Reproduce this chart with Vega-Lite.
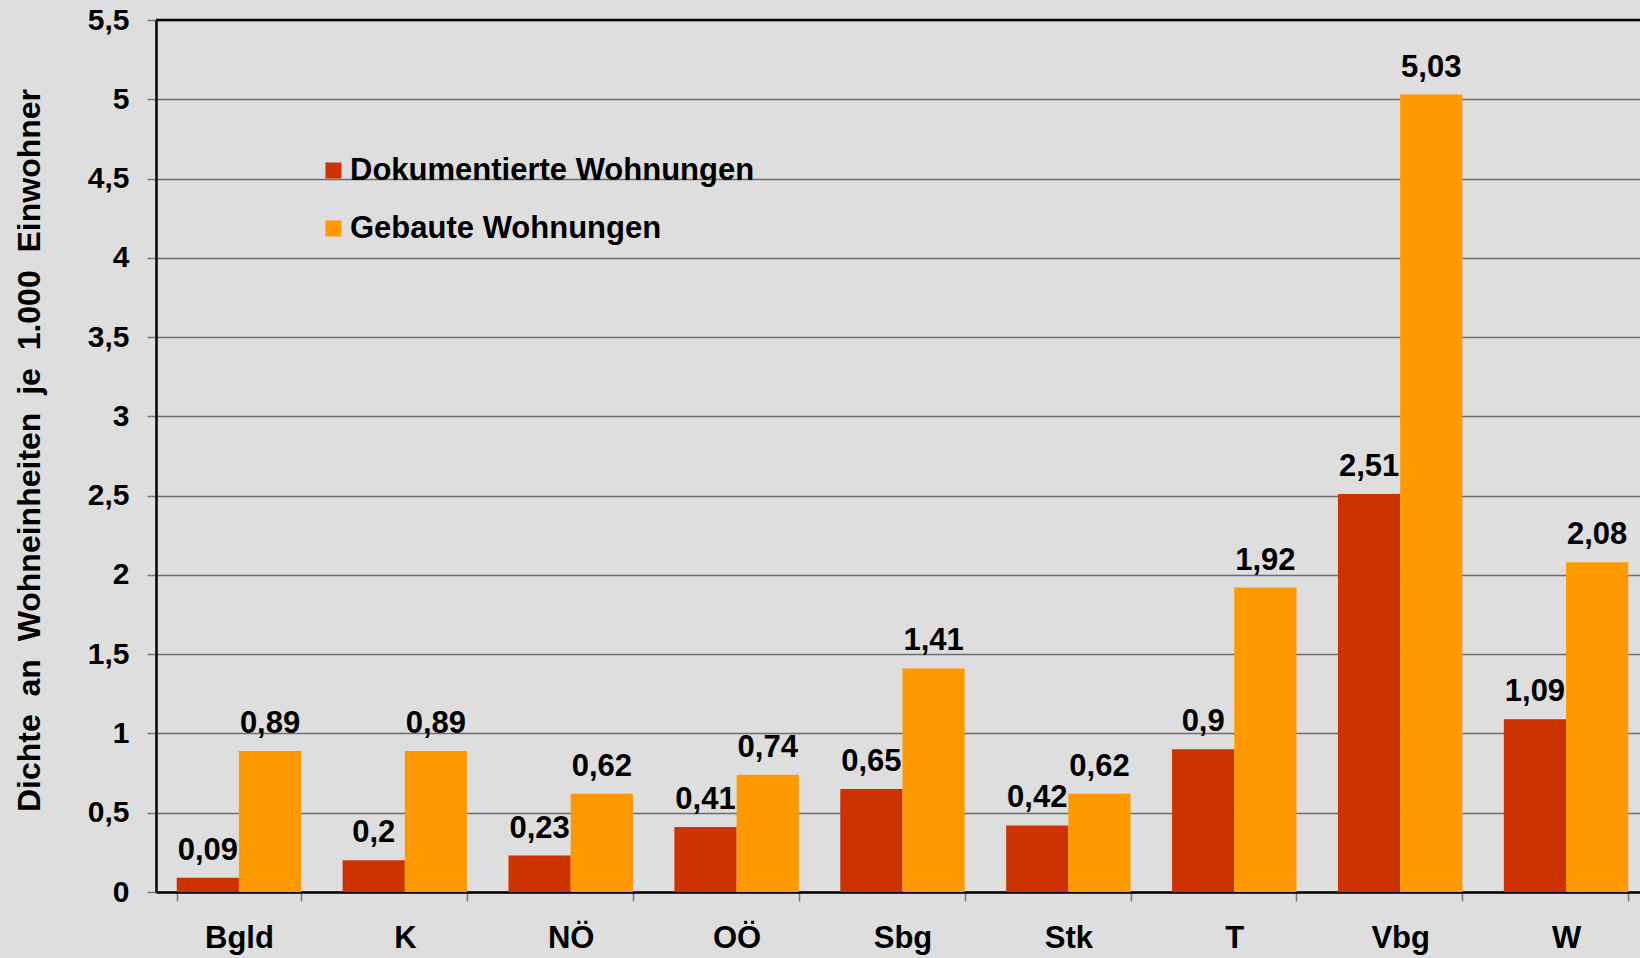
{
  "$schema": "https://vega.github.io/schema/vega-lite/v6.json",
  "width": 1493,
  "height": 872,
  "autosize": {"type": "none"},
  "padding": {"left": 156, "top": 20, "right": 0, "bottom": 66},
  "background": "#DEDEDE",
  "config": {
    "locale": {"number": {"decimal": ",", "thousands": ".", "grouping": [3], "currency": ["", " €"]}},
    "font": "Liberation Sans",
    "view": {"stroke": null, "fill": "#DEDEDE"}
  },
  "data": {
    "values": [
      {"land": "Bgld", "serie": "Dokumentierte Wohnungen", "wert": 0.09},
      {"land": "Bgld", "serie": "Gebaute Wohnungen", "wert": 0.89},
      {"land": "K", "serie": "Dokumentierte Wohnungen", "wert": 0.2},
      {"land": "K", "serie": "Gebaute Wohnungen", "wert": 0.89},
      {"land": "NÖ", "serie": "Dokumentierte Wohnungen", "wert": 0.23},
      {"land": "NÖ", "serie": "Gebaute Wohnungen", "wert": 0.62},
      {"land": "OÖ", "serie": "Dokumentierte Wohnungen", "wert": 0.41},
      {"land": "OÖ", "serie": "Gebaute Wohnungen", "wert": 0.74},
      {"land": "Sbg", "serie": "Dokumentierte Wohnungen", "wert": 0.65},
      {"land": "Sbg", "serie": "Gebaute Wohnungen", "wert": 1.41},
      {"land": "Stk", "serie": "Dokumentierte Wohnungen", "wert": 0.42},
      {"land": "Stk", "serie": "Gebaute Wohnungen", "wert": 0.62},
      {"land": "T", "serie": "Dokumentierte Wohnungen", "wert": 0.9},
      {"land": "T", "serie": "Gebaute Wohnungen", "wert": 1.92},
      {"land": "Vbg", "serie": "Dokumentierte Wohnungen", "wert": 2.51},
      {"land": "Vbg", "serie": "Gebaute Wohnungen", "wert": 5.03},
      {"land": "W", "serie": "Dokumentierte Wohnungen", "wert": 1.09},
      {"land": "W", "serie": "Gebaute Wohnungen", "wert": 2.08}
    ]
  },
  "layer": [
    {
      "mark": {"type": "bar"},
      "encoding": {
        "x": {
          "field": "land", "type": "nominal", "sort": null,
          "scale": {"paddingInner": 0.25, "paddingOuter": 0.125},
          "axis": {
            "title": null, "labelAngle": 0, "labelFont": "Liberation Sans", "labelFontWeight": "bold",
            "labelFontSize": 31, "labelColor": "#000000", "labelPadding": 22,
            "domainColor": "#000000", "domainWidth": 2.5,
            "tickBand": "extent", "tickColor": "#777777", "tickWidth": 1.5, "tickSize": 9,
            "grid": false
          }
        },
        "xOffset": {"field": "serie", "type": "nominal", "sort": ["Dokumentierte Wohnungen", "Gebaute Wohnungen"], "scale": {"paddingInner": 0, "paddingOuter": 0}},
        "y": {
          "field": "wert", "type": "quantitative",
          "scale": {"domain": [0, 5.5], "nice": false, "zero": true},
          "axis": {
            "title": "Dichte\u00a0 an\u00a0 Wohneinheiten\u00a0 je\u00a0 1.000\u00a0 Einwohner",
            "titleFont": "Liberation Sans", "titleFontWeight": "bold", "titleFontSize": 32, "titleColor": "#000000",
            "titlePadding": 41, "titleY": 430,
            "values": [0, 0.5, 1, 1.5, 2, 2.5, 3, 3.5, 4, 4.5, 5, 5.5],
            "format": "~g",
            "labelFont": "Liberation Sans", "labelFontWeight": "bold", "labelFontSize": 30, "labelColor": "#000000",
            "labelPadding": 18,
            "domainColor": "#000000", "domainWidth": 2.5,
            "tickColor": "#777777", "tickWidth": 1.5, "tickSize": 9,
            "grid": true, "gridColor": "#6E6E6E", "gridWidth": 1.3
          }
        },
        "color": {
          "field": "serie", "type": "nominal",
          "sort": ["Dokumentierte Wohnungen", "Gebaute Wohnungen"],
          "scale": {"domain": ["Dokumentierte Wohnungen", "Gebaute Wohnungen"], "range": ["#CC3300", "#FF9900"]},
          "legend": {
            "title": null, "orient": "none", "legendX": 162, "legendY": 135,
            "symbolType": "square", "symbolSize": 256, "symbolStrokeWidth": 0, "symbolOpacity": 1,
            "labelFont": "Liberation Sans", "labelFontWeight": "bold", "labelFontSize": 31, "labelColor": "#000000",
            "labelOffset": 1, "rowPadding": 26, "labelLimit": 700
          }
        }
      }
    },
    {
      "mark": {"type": "text", "baseline": "alphabetic", "dy": -18, "font": "Liberation Sans", "fontWeight": "bold", "fontSize": 31, "color": "#000000"},
      "encoding": {
        "x": {"field": "land", "type": "nominal", "sort": null},
        "xOffset": {"field": "serie", "type": "nominal", "sort": ["Dokumentierte Wohnungen", "Gebaute Wohnungen"]},
        "y": {"field": "wert", "type": "quantitative"},
        "text": {"field": "wert", "type": "quantitative", "format": ".2~f"}
      }
    },
    {
      "data": {"values": [{"oben": 5.5}]},
      "mark": {"type": "rule", "color": "#000000", "strokeWidth": 2.5},
      "encoding": {"y": {"field": "oben", "type": "quantitative"}}
    }
  ]
}
